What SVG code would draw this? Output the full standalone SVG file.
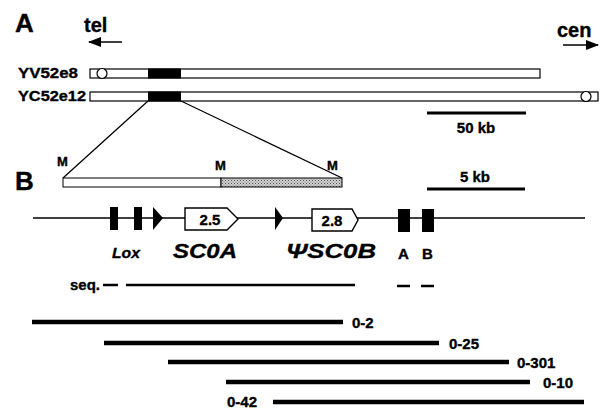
<svg xmlns="http://www.w3.org/2000/svg" width="603" height="409" viewBox="0 0 603 409">
<style>
  text { font-family: "Liberation Sans", Arial, sans-serif; font-weight: bold; fill: #000; stroke: #000; stroke-width: 0.35; }
  .lbl { font-size: 15px; }
  .big { font-size: 26px; }
  .it { font-style: italic; }
  .bar { fill: #fff; stroke: #000; stroke-width: 1.2; }
  .blk { fill: #000; }
  .ln { stroke: #000; stroke-width: 1.3; fill: none; }
  .frag { stroke: #000; stroke-width: 4.5; }
  .seq { stroke: #000; stroke-width: 2.5; }
  .gene { fill: #fff; stroke: #000; stroke-width: 1.4; }
</style>
<defs>
  <pattern id="hatch" width="3" height="3" patternUnits="userSpaceOnUse">
    <rect width="3" height="3" fill="#d0d0d0"/>
    <rect width="1" height="1" fill="#555"/>
    <rect x="1.5" y="1.5" width="1" height="1" fill="#777"/>
  </pattern>
  <marker id="ah" markerWidth="13" markerHeight="10" refX="12" refY="5" orient="auto" markerUnits="userSpaceOnUse">
    <path d="M0,0 L13,5 L0,10 Z" fill="#000"/>
  </marker>
</defs>
<rect width="603" height="409" fill="#fff"/>

<g id="panelA-labels">
  <text class="big" x="15" y="32">A</text>
  <text x="84" y="32" font-size="20">tel</text>
  <text x="557" y="37" font-size="20">cen</text>
  <text class="big" x="15" y="190">B</text>
</g>

<g id="connectors">
  <line class="ln" x1="122" y1="42" x2="89" y2="42" stroke-width="3" marker-end="url(#ah)"/>
  <line class="ln" x1="563" y1="45" x2="598" y2="45" stroke-width="3" marker-end="url(#ah)"/>
  <line class="ln" x1="148" y1="101" x2="63" y2="178"/>
  <line class="ln" x1="181" y1="101" x2="342" y2="178"/>
</g>

<g id="YV52e8">
  <text class="lbl" x="18" y="78" textLength="60" lengthAdjust="spacingAndGlyphs">YV52e8</text>
  <rect class="bar" x="90" y="69" width="450" height="9"/>
  <circle cx="102" cy="73.5" r="5" fill="#fff" stroke="#000" stroke-width="1.2"/>
  <rect class="blk" x="148" y="68.5" width="33" height="10"/>
</g>

<g id="YC52e12">
  <text class="lbl" x="18" y="101" textLength="68" lengthAdjust="spacingAndGlyphs">YC52e12</text>
  <rect class="bar" x="90" y="92" width="508" height="9"/>
  <circle cx="586" cy="96.5" r="5" fill="#fff" stroke="#000" stroke-width="1.2"/>
  <rect class="blk" x="148" y="91.5" width="33" height="10"/>
</g>

<g id="scale50">
  <line x1="427" y1="113" x2="526" y2="113" stroke="#000" stroke-width="3"/>
  <text class="lbl" x="476" y="133" text-anchor="middle">50 kb</text>
</g>

<g id="expanded">
  <rect x="63" y="178" width="158" height="9" fill="#fff" stroke="#000" stroke-width="1"/>
  <rect x="221" y="178" width="121" height="9" fill="url(#hatch)" stroke="#000" stroke-width="1"/>
  <text x="57" y="166" font-size="13">M</text>
  <text x="215" y="170" font-size="13">M</text>
  <text x="327" y="170" font-size="13">M</text>
</g>

<g id="scale5">
  <line x1="427" y1="189" x2="525" y2="189" stroke="#000" stroke-width="3"/>
  <text class="lbl" x="475" y="182" text-anchor="middle" font-size="16">5 kb</text>
</g>

<g id="map">
  <line class="ln" x1="33" y1="218" x2="585" y2="218"/>
  <rect class="blk" x="110" y="207" width="8" height="23"/>
  <rect class="blk" x="134" y="207" width="8" height="23"/>
  <path d="M153,207 L163,218 L153,230 Z" fill="#000"/>
  <path d="M275,207 L283,218 L275,230 Z" fill="#000"/>
  <rect class="blk" x="398" y="209" width="12" height="23"/>
  <rect class="blk" x="422" y="209" width="12" height="23"/>
</g>

<g id="SC0A">
  <path class="gene" d="M185,208 L227,208 L238,219 L227,230 L185,230 Z"/>
  <text x="210" y="225" font-size="15" text-anchor="middle">2.5</text>
  <text class="it" x="173" y="258" font-size="21" textLength="64" lengthAdjust="spacingAndGlyphs">SC0A</text>
</g>

<g id="SC0B">
  <path class="gene" d="M312,209 L352,209 L358,220 L352,231 L312,231 Z"/>
  <text x="332" y="226" font-size="15" text-anchor="middle">2.8</text>
  <text class="it" x="286" y="258" font-size="21" textLength="90" lengthAdjust="spacingAndGlyphs">ΨSC0B</text>
</g>

<g id="labels-map">
  <text class="lbl it" x="112" y="258" textLength="28" lengthAdjust="spacingAndGlyphs">Lox</text>
  <text x="398" y="259" font-size="15">A</text>
  <text x="422" y="259" font-size="15">B</text>
</g>

<g id="seq">
  <text class="lbl" x="70" y="290">seq.</text>
  <line class="seq" x1="103" y1="285" x2="118" y2="285"/>
  <line class="seq" x1="126" y1="285" x2="355" y2="285"/>
  <line class="seq" x1="397" y1="286" x2="410" y2="286"/>
  <line class="seq" x1="421" y1="286" x2="434" y2="286"/>
</g>

<g id="fragments">
  <line class="frag" x1="32" y1="322" x2="343" y2="322"/>
  <text class="lbl" x="352" y="328">0-2</text>
  <line class="frag" x1="104" y1="343" x2="439" y2="343"/>
  <text class="lbl" x="449" y="349">0-25</text>
  <line class="frag" x1="168" y1="362" x2="509" y2="362"/>
  <text class="lbl" x="517" y="368">0-301</text>
  <line class="frag" x1="226" y1="382" x2="530" y2="382"/>
  <text class="lbl" x="543" y="388">0-10</text>
  <line class="frag" x1="273" y1="402" x2="584" y2="402"/>
  <text class="lbl" x="227" y="407">0-42</text>
</g>
</svg>
